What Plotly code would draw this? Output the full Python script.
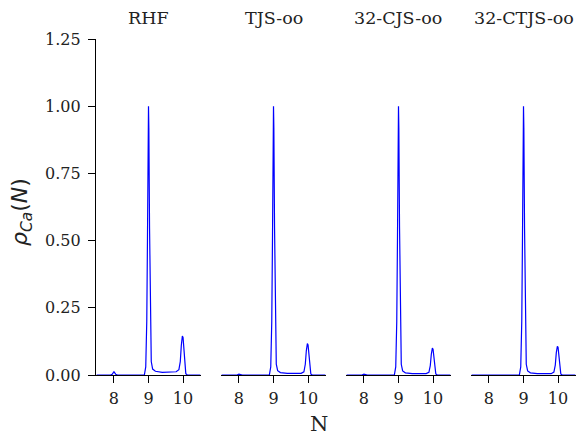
import plotly.graph_objects as go

titles = ["RHF", "TJS-oo", "32-CJS-oo", "32-CTJS-oo"]

x_vals = [7.5, 7.9, 7.95, 8.0, 8.05, 8.1, 8.5, 8.88, 8.92, 8.95, 8.97, 8.99, 9.0,
          9.01, 9.03, 9.05, 9.08, 9.12, 9.2, 9.4, 9.6, 9.8, 9.88, 9.92, 9.95,
          9.98, 10.0, 10.02, 10.05, 10.08, 10.12, 10.5]

rho_rhf = [0.0, 0.0, 0.003, 0.012, 0.003, 0.0, 0.0, 0.0, 0.03, 0.2, 0.5, 0.9, 1.0,
           0.92, 0.55, 0.2, 0.05, 0.022, 0.014, 0.01, 0.01, 0.012, 0.02, 0.05, 0.11,
           0.145, 0.14, 0.1, 0.03, 0.005, 0.0, 0.0]
rho_tjs = [0.0, 0.0, 0.001, 0.003, 0.001, 0.0, 0.0, 0.0, 0.03, 0.2, 0.5, 0.9, 1.0,
           0.92, 0.55, 0.2, 0.04, 0.016, 0.009, 0.006, 0.005, 0.006, 0.012, 0.04, 0.09,
           0.117, 0.112, 0.08, 0.025, 0.004, 0.0, 0.0]
rho_cjs = [0.0, 0.0, 0.001, 0.003, 0.001, 0.0, 0.0, 0.0, 0.03, 0.2, 0.5, 0.9, 1.0,
           0.92, 0.55, 0.2, 0.04, 0.015, 0.008, 0.005, 0.004, 0.005, 0.01, 0.035, 0.077,
           0.1, 0.096, 0.07, 0.022, 0.004, 0.0, 0.0]
rho_ctjs = [0.0, 0.0, 0.001, 0.002, 0.001, 0.0, 0.0, 0.0, 0.03, 0.2, 0.5, 0.9, 1.0,
            0.92, 0.55, 0.2, 0.04, 0.015, 0.008, 0.005, 0.004, 0.005, 0.011, 0.037, 0.083,
            0.107, 0.103, 0.075, 0.024, 0.004, 0.0, 0.0]
series = [rho_rhf, rho_tjs, rho_cjs, rho_ctjs]

y_ticks = [0.0, 0.25, 0.5, 0.75, 1.0, 1.25]
x_ticks = [8, 9, 10]

domains = [[0.0, 0.21875], [0.2604, 0.4792], [0.5208, 0.7396], [0.78125, 1.0]]

W, H = 577, 434
ML, MR, MT, MB = 96, 1, 39, 59
PW, PH = W - ML - MR, H - MT - MB

fig = go.Figure()
serif = "DejaVu Serif"
for i, (ys, t) in enumerate(zip(series, titles)):
    n = "" if i == 0 else str(i + 1)
    fig.add_trace(go.Scatter(x=x_vals, y=ys, mode="lines",
                             line=dict(color="#0000ff", width=1.2),
                             xaxis="x" + n, yaxis="y" + n, showlegend=False))
    fig.layout["xaxis" + n] = dict(
        domain=domains[i], range=[7.48, 10.52], tickvals=x_ticks,
        ticks="outside", ticklen=7, tickwidth=1.2, tickcolor="black",
        showline=True, linecolor="black", linewidth=1.3, showgrid=False,
        zeroline=False, anchor="y" + n, ticklabelstandoff=2,
        tickfont=dict(family=serif, size=16, color="#222"))
    if i == 0:
        fig.layout["yaxis"] = dict(
            range=[0, 1.25], tickvals=y_ticks,
            ticktext=["%.2f" % v for v in y_ticks],
            ticks="outside", ticklen=7, tickwidth=1.2, tickcolor="black",
            showline=True, linecolor="black", linewidth=1.3, showgrid=False,
            zeroline=False, anchor="x", ticklabelstandoff=4,
            tickfont=dict(family=serif, size=16, color="#222"))
    else:
        fig.layout["yaxis" + n] = dict(
            range=[0, 1.25], visible=False, showgrid=False, zeroline=False,
            anchor="x" + n, matches="y")
    fig.add_annotation(text=t, x=(domains[i][0] + domains[i][1]) / 2,
                       y=1 + (MT - 18) / PH,
                       xref="paper", yref="paper", xanchor="center",
                       yanchor="middle", showarrow=False,
                       font=dict(family=serif, size=17.5, color="#222"))

fig.add_annotation(text="N", x=(319 - ML) / PW, y=-(424 - (H - MB)) / PH, xref="paper",
                   yref="paper", xanchor="center", yanchor="middle", showarrow=False,
                   font=dict(family=serif, size=21, color="#222"))
fig.add_annotation(text="<i>ρ</i><sub><i>Ca</i></sub>(<i>N</i>)", x=(22 - ML) / PW,
                   y=((H - MB) - 212) / PH, xref="paper", yref="paper", textangle=-90,
                   xanchor="center", yanchor="middle", showarrow=False,
                   font=dict(family="DejaVu Sans", size=22, color="#222"))

fig.update_layout(width=W, height=H, margin=dict(l=ML, r=MR, t=MT, b=MB),
                  plot_bgcolor="white", paper_bgcolor="white")
fig.write_html("out.html", config={"displayModeBar": False},
               post_script="document.body.style.margin='0';document.body.style.padding='0';")
